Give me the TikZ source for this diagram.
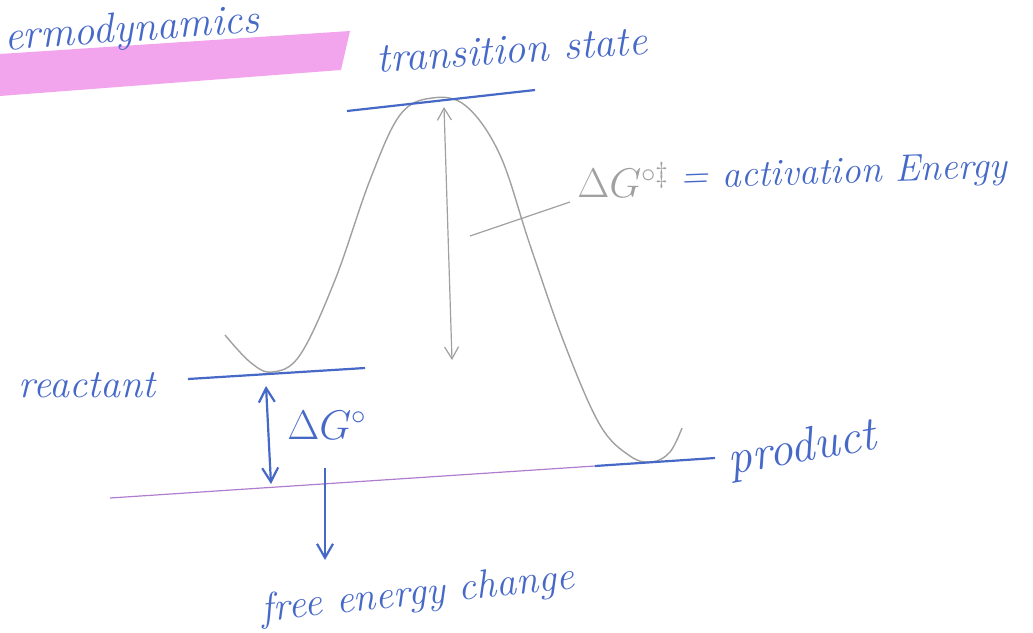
\documentclass[tikz,border=0pt]{standalone}
\usepackage{tikz}
\usetikzlibrary{arrows.meta,positioning,calc}
\definecolor{ink}{RGB}{70,105,200}
\definecolor{pencil}{RGB}{160,160,160}
\definecolor{marker}{RGB}{242,165,236}
\definecolor{zeroline}{RGB}{175,125,205}
\newcommand{\hand}[1]{\fontsize{#1}{#1}\selectfont\itshape}

\begin{document}
\begin{tikzpicture}[x=0.5pt, y=-0.5pt,
  every node/.style={font=\hand{20}, text=ink, inner sep=1pt},
  level/.style={draw=ink, line width=1.1pt},
  inkarrow/.style={draw=ink, line width=1.1pt, -{Straight Barb[length=7pt,width=8pt]}},
  inkboth/.style={draw=ink, line width=1.1pt, {Straight Barb[length=7pt,width=8pt]}-{Straight Barb[length=7pt,width=8pt]}},
  pencilboth/.style={draw=pencil, line width=0.6pt, {Straight Barb[length=6pt,width=7pt]}-{Straight Barb[length=6pt,width=7pt]}}]
  \useasboundingbox (0,0) rectangle (1033,632);
  % highlighted title
  \fill[marker] (0,54) -- (350,31) -- (341,70) -- (0,96) -- cycle;
  \node[rotate=4, font=\hand{21}, anchor=west] (title) at (2,40) {ermodynamics};
  % energy profile
  \draw[pencil, line width=0.7pt] plot[smooth, tension=0.6] coordinates {
    (225,335) (250,362) (272,372) (300,355) (335,280) (370,180) (400,115)
    (432,98) (466,106) (500,155) (530,245) (565,345) (600,425) (630,456)
    (652,462) (670,452) (682,428)};
  % transition state
  \node[rotate=4, font=\hand{21}] (ts) at (512,50) {transition state};
  \coordinate (tsL) at (347,111);
  \coordinate (tsR) at (535,90);
  \draw[level] (tsL) -- (tsR);
  % reactant
  \node (reac) at (87,385) {reactant};
  \coordinate (reacL) at (188,379);
  \coordinate (reacR) at (365,368);
  \draw[level] (reacL) -- (reacR);
  % product
  \node[rotate=10, font=\hand{24}] (prod) at (802,450) {product};
  \coordinate (prodL) at (595,466);
  \coordinate (prodR) at (715,458);
  \draw[level] (prodL) -- (prodR);
  % zero line
  \coordinate (zeroL) at (110,498);
  \draw[zeroline, line width=0.6pt] (zeroL) -- (prodL);
  % free energy change
  \coordinate (dgTop) at (266,386);
  \coordinate (dgBot) at (271,484);
  \draw[inkboth] (dgTop) -- (dgBot);
  \node (dG) at (327,425) {$\Delta G^{\circ}$};
  \node[rotate=6] (fec) at (418,595) {free energy change};
  \coordinate (fecTop) at (325,468);
  \coordinate (fecTip) at (325,560);
  \draw[inkarrow] (fecTop) -- (fecTip);
  % activation energy
  \coordinate (actTop) at (444,107);
  \coordinate (actBot) at (452,360);
  \draw[pencilboth] (actTop) -- (actBot);
  \node[text=pencil, anchor=east] (dGact) at (672,180) {$\Delta G^{\circ\ddagger}$};
  \node[right=3pt of dGact, rotate=2, font=\hand{19}] (actE) {= activation Energy};
  \coordinate (ptrA) at (470,236);
  \coordinate (ptrB) at (570,202);
  \draw[pencil, line width=0.6pt] (ptrA) -- (ptrB);
\end{tikzpicture}
\end{document}
